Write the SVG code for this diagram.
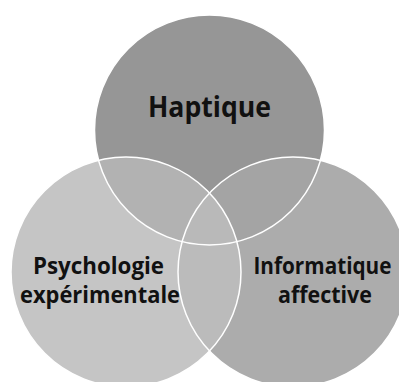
<svg xmlns="http://www.w3.org/2000/svg" width="399" height="382" viewBox="0 0 399 382">
<style>
.lbl{font-family:"Open Sans","Noto Sans",sans-serif;font-weight:bold;fill:#111;text-anchor:middle}
.ol{fill:none;stroke:#ffffff;stroke-width:1.5}
</style>
<defs>
<clipPath id="cT"><circle cx="209.5" cy="130" r="115"/></clipPath>
<clipPath id="cL"><circle cx="126" cy="272" r="115"/></clipPath>
<clipPath id="cR"><circle cx="293" cy="272" r="115"/></clipPath>
</defs>
<rect width="399" height="382" fill="#ffffff"/>
<g id="haptique">
<circle cx="209.5" cy="130" r="115" fill="#969696"/>
</g>
<g id="psychologie">
<circle cx="126" cy="272" r="115" fill="#c5c5c5"/>
</g>
<g id="informatique">
<circle cx="293" cy="272" r="115" fill="#acacac"/>
</g>
<g id="overlaps">
<g clip-path="url(#cT)"><circle cx="126" cy="272" r="115" fill="#b2b2b2"/></g>
<g clip-path="url(#cT)"><circle cx="293" cy="272" r="115" fill="#a4a4a4"/></g>
<g clip-path="url(#cL)"><circle cx="293" cy="272" r="115" fill="#bbbbbb"/></g>
<g clip-path="url(#cT)"><g clip-path="url(#cL)"><circle cx="293" cy="272" r="115" fill="#b9b9b9"/></g></g>
</g>
<g id="connectors">
<circle class="ol" cx="209.5" cy="130" r="115"/>
<circle class="ol" cx="126" cy="272" r="115"/>
<circle class="ol" cx="293" cy="272" r="115"/>
</g>
<g id="labels">
<text class="lbl" x="209.5" y="117" font-size="28" textLength="123" lengthAdjust="spacingAndGlyphs">Haptique</text>
<text class="lbl" x="98.5" y="274" font-size="23" textLength="131" lengthAdjust="spacingAndGlyphs">Psychologie</text>
<text class="lbl" x="100" y="303" font-size="23" textLength="160" lengthAdjust="spacingAndGlyphs">expérimentale</text>
<text class="lbl" x="322.5" y="274" font-size="23" textLength="138" lengthAdjust="spacingAndGlyphs">Informatique</text>
<text class="lbl" x="325" y="303" font-size="23" textLength="94" lengthAdjust="spacingAndGlyphs">affective</text>
</g>
</svg>
